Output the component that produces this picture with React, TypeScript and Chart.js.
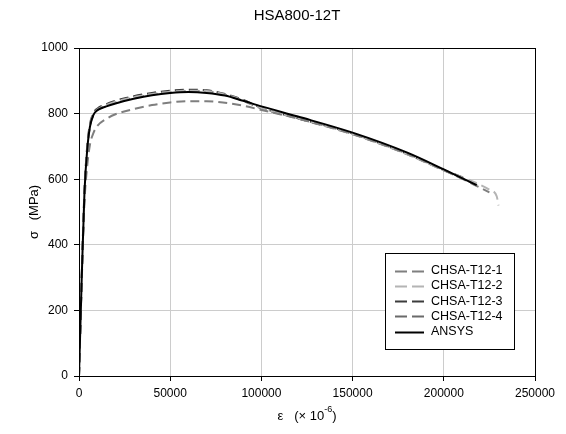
import React, { useEffect, useRef } from "react";
import { Chart, registerables } from "chart.js";

Chart.register(...registerables);

const chartTitle = "HSA800-12T";
const xTickValues = [0, 50000, 100000, 150000, 200000, 250000];
const yTickValues = [0, 200, 400, 600, 800, 1000];

const seriesNames = ["CHSA-T12-1", "CHSA-T12-2", "CHSA-T12-3", "CHSA-T12-4", "ANSYS"];

const t1Strain = [0, 1500, 3000, 4500, 6000, 8000, 10000, 15000, 20000, 30000, 40000, 50000, 60000, 70000, 80000, 90000, 100000, 120000, 150000, 180000, 200000, 225000];
const t1Stress = [0, 290, 530, 640, 705, 742, 762, 784, 798, 814, 826, 834, 838, 838, 833, 824, 811, 785, 738, 677, 628, 560];

const t2Strain = [0, 1500, 3000, 4500, 6000, 8000, 10000, 15000, 20000, 30000, 40000, 50000, 60000, 70000, 80000, 90000, 100000, 120000, 150000, 180000, 200000, 215000, 225000, 229000, 230000];
const t2Stress = [0, 300, 560, 695, 765, 800, 812, 826, 836, 850, 860, 867, 870, 869, 858, 840, 817, 786, 738, 676, 627, 595, 568, 548, 520];

const t3Strain = [0, 1500, 3000, 4500, 6000, 8000, 10000, 15000, 20000, 30000, 40000, 50000, 60000, 70000, 80000, 90000, 100000, 120000, 150000, 180000, 200000, 212000];
const t3Stress = [0, 305, 565, 700, 768, 802, 815, 829, 839, 853, 863, 870, 873, 871, 860, 842, 818, 786, 739, 677, 628, 602];

const t4Strain = [0, 1500, 3000, 4500, 6000, 8000, 10000, 15000, 20000, 30000, 40000, 50000, 60000, 70000, 80000, 90000, 100000, 120000, 150000, 180000, 200000, 220000];
const t4Stress = [0, 298, 555, 690, 760, 797, 810, 824, 834, 848, 858, 865, 869, 868, 857, 839, 816, 785, 737, 676, 627, 578];

const ansysStrain = [0, 1500, 3000, 4500, 6000, 8000, 10000, 15000, 20000, 30000, 40000, 50000, 60000, 70000, 80000, 90000, 100000, 120000, 150000, 180000, 200000, 218000];
const ansysStress = [0, 300, 560, 690, 760, 797, 810, 822, 831, 845, 856, 863, 866, 863, 855, 839, 822, 791, 742, 681, 630, 582];

const seriesColors = ["#7f7f7f", "#b4b4b4", "#3c3c3c", "#6a6a6a", "#000000"];
const seriesDash = [[9, 5], [9, 5], [9, 5], [9, 5], []];

const toPoints = (xs: number[], ys: number[]) => xs.map((x, i) => ({ x, y: ys[i] }));

const FONT = "'Liberation Sans', Arial, sans-serif";

const decorPlugin = {
  id: "decor",
  afterDraw(chart: any) {
    const ctx = chart.ctx as CanvasRenderingContext2D;
    const ca = chart.chartArea;
    ctx.save();
    ctx.strokeStyle = "#000";
    ctx.lineWidth = 1;
    ctx.setLineDash([]);
    ctx.strokeRect(Math.round(ca.left) + 0.5, Math.round(ca.top) + 0.5, Math.round(ca.right - ca.left), Math.round(ca.bottom - ca.top));

    // title
    ctx.fillStyle = "#000";
    ctx.font = `15px ${FONT}`;
    ctx.textAlign = "center";
    ctx.textBaseline = "middle";
    ctx.fillText(chartTitle, 297, 16);

    // x axis title with superscript
    const a = "ε   (× 10";
    const sup = "-6";
    const c = ")";
    ctx.font = `13px ${FONT}`;
    const wa = ctx.measureText(a).width;
    const wc = ctx.measureText(c).width;
    ctx.font = `9px ${FONT}`;
    const ws = ctx.measureText(sup).width;
    const total = wa + ws + wc;
    const x0 = 307 - total / 2;
    ctx.textAlign = "left";
    ctx.font = `13px ${FONT}`;
    ctx.fillText(a, x0, 416);
    ctx.font = `9px ${FONT}`;
    ctx.fillText(sup, x0 + wa, 410);
    ctx.font = `13px ${FONT}`;
    ctx.fillText(c, x0 + wa + ws, 416);

    // y axis title
    ctx.save();
    ctx.translate(34, 212);
    ctx.rotate(-Math.PI / 2);
    ctx.textAlign = "center";
    ctx.font = `13px ${FONT}`;
    ctx.fillText("σ   (MPa)", 0, 0);
    ctx.restore();

    // legend
    const bx = 385, by = 253, bw = 129, bh = 96;
    ctx.fillStyle = "#fff";
    ctx.fillRect(bx, by, bw, bh);
    ctx.strokeStyle = "#000";
    ctx.lineWidth = 1;
    ctx.strokeRect(bx + 0.5, by + 0.5, bw, bh);
    const ds = chart.data.datasets;
    ctx.font = `12.5px ${FONT}`;
    ctx.textBaseline = "middle";
    ctx.textAlign = "left";
    for (let i = 0; i < ds.length; i++) {
      const yy = 270.5 + i * 15.3;
      ctx.strokeStyle = ds[i].borderColor;
      ctx.lineWidth = 2;
      ctx.setLineDash(i < 4 ? [12, 5] : []);
      ctx.beginPath();
      ctx.moveTo(395, Math.round(yy) + 0.5);
      ctx.lineTo(424, Math.round(yy) + 0.5);
      ctx.stroke();
      ctx.setLineDash([]);
      ctx.fillStyle = "#000";
      ctx.fillText(ds[i].label, 431, yy);
    }
    ctx.restore();
  },
};

export default function App() {
  const ref = useRef<HTMLCanvasElement | null>(null);
  useEffect(() => {
    document.body.style.margin = "0";
    const canvas = ref.current!;
    const allStrain = [t1Strain, t2Strain, t3Strain, t4Strain, ansysStrain];
    const allStress = [t1Stress, t2Stress, t3Stress, t4Stress, ansysStress];
    const datasets = seriesNames.map((name, i) => ({
      label: name,
      data: toPoints(allStrain[i], allStress[i]),
      borderColor: seriesColors[i],
      backgroundColor: seriesColors[i],
      borderWidth: 2,
      borderDash: seriesDash[i],
      pointRadius: 0,
      showLine: true,
      fill: false,
      order: i === 4 ? 0 : 1,
      cubicInterpolationMode: "monotone" as const,
    }));
    const chart = new Chart(canvas, {
      type: "scatter",
      data: { datasets },
      options: {
        responsive: false,
        animation: false,
        layout: { padding: { top: 48, right: 31, left: 0, bottom: 0 } },
        plugins: { legend: { display: false }, tooltip: { enabled: false }, title: { display: false } },
        scales: {
          x: {
            type: "linear",
            min: 0,
            max: 250000,
            afterFit: (s: any) => { s.height = 58; },
            afterBuildTicks: (s: any) => { s.ticks = xTickValues.map((v) => ({ value: v })); },
            ticks: {
              color: "#000",
              font: { family: FONT, size: 12 },
              padding: 5,
              maxRotation: 0,
              callback: (v: any) => String(v),
            },
            grid: { color: "#cccccc", tickColor: "#000", tickLength: 5, drawTicks: true },
            border: { color: "#000" },
          },
          y: {
            type: "linear",
            min: 0,
            max: 1000,
            afterFit: (s: any) => { s.width = 79; },
            afterBuildTicks: (s: any) => { s.ticks = yTickValues.map((v) => ({ value: v })); },
            ticks: {
              color: "#000",
              font: { family: FONT, size: 12 },
              padding: 6,
              callback: (v: any) => String(v),
            },
            grid: { color: "#cccccc", tickColor: "#000", tickLength: 5, drawTicks: true },
            border: { color: "#000" },
          },
        },
      },
      plugins: [decorPlugin],
    });
    return () => chart.destroy();
  }, []);
  return <canvas ref={ref} width={566} height={434} style={{ display: "block" }} />;
}
